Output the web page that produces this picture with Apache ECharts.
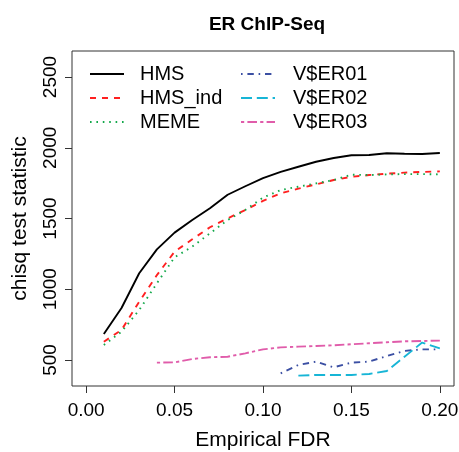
<!DOCTYPE html>
<html>
<head>
<meta charset="utf-8">
<script src="https://cdn.jsdelivr.net/npm/echarts@6/dist/echarts.min.js"></script>
<style>
  html, body { margin: 0; padding: 0; background: #fff; }
  #chart { width: 459px; height: 452px; }
</style>
</head>
<body>
<div id="chart"></div>
<script>
// Empirical FDR grid
var fdr = [0.01, 0.02, 0.03, 0.04, 0.05, 0.06, 0.07, 0.08, 0.09, 0.10,
           0.11, 0.12, 0.13, 0.14, 0.15, 0.16, 0.17, 0.18, 0.19, 0.20];

var hms    = [684, 867, 1113, 1282, 1400, 1489, 1572, 1668, 1728, 1786,
              1829, 1866, 1901, 1928, 1947, 1949, 1961, 1958, 1956, 1963];
var hmsInd = [629, 712, 912, 1100, 1265, 1353, 1438, 1501, 1560, 1625,
              1678, 1711, 1741, 1772, 1795, 1807, 1817, 1824, 1829, 1833];
var meme   = [606, 700, 853, 1042, 1226, 1301, 1395, 1489, 1560, 1648,
              1701, 1725, 1748, 1772, 1810, 1807, 1812, 1814, 1814, 1812];
// these start later on the fdr grid
var er01 = [406, 465, 488, 448, 481, 488, 528, 564, 575, 575];          // from 0.11
var er02 = [389, 394, 394, 394, 401, 422, 523, 623, 582];               // from 0.12
var er03 = [481, 483, 507, 519, 523, 547, 575, 589, 594, 599, 604,
            611, 618, 625, 632, 634, 637];                               // from 0.04

var xTicks = [0, 0.05, 0.10, 0.15, 0.20];
var yTicks = [500, 1000, 1500, 2000, 2500];

function pairs(vals, startX) {
  var i0 = fdr.indexOf(startX);
  return vals.map(function (v, i) { return [fdr[i0 + i], v]; });
}

var font = 'Liberation Sans, Arial, sans-serif';
var lw = 1.9;

function line(name, data, color, type) {
  return {
    name: name,
    type: 'line',
    data: data,
    symbol: 'none',
    showSymbol: false,
    animation: false,
    lineStyle: { color: color, width: lw, type: type },
    itemStyle: { color: color }
  };
}

var legendCommon = {
  orient: 'vertical', top: 64, padding: 0,
  itemWidth: 34, itemHeight: 14, itemGap: 4,
  itemStyle: { opacity: 0 }
};

var chart = echarts.init(document.getElementById('chart'));
chart.setOption({
  animation: false,
  title: {
    text: 'ER ChIP-Seq',
    left: 262,
    textAlign: 'center',
    top: 10,
    textStyle: { fontFamily: font, fontWeight: 'bold', fontSize: 19, color: '#000' }
  },
  grid: {
    left: 72, right: 5, top: 51, bottom: 66,
    outerBoundsMode: 'none',
    show: true, borderColor: '#333', borderWidth: 1, backgroundColor: 'transparent'
  },
  legend: [
    Object.assign({}, legendCommon, {
      data: ['HMS', 'HMS_ind', 'MEME'], left: 89,
      textStyle: { fontFamily: font, fontSize: 20, color: '#000', padding: [0, 0, 0, 11] }
    }),
    Object.assign({}, legendCommon, {
      data: ['V$ER01', 'V$ER02', 'V$ER03'], left: 240,
      textStyle: { fontFamily: font, fontSize: 20, color: '#000', padding: [0, 0, 0, 13] }
    })
  ],
  xAxis: {
    type: 'value',
    min: -0.008, max: 0.208,
    name: 'Empirical FDR',
    nameLocation: 'middle',
    nameGap: 44,
    nameTextStyle: { fontFamily: font, fontSize: 21, color: '#000' },
    axisLine: { show: false, onZero: false },
    splitLine: { show: false },
    axisTick: { show: true, customValues: xTicks, length: 7, lineStyle: { color: '#333' } },
    axisLabel: {
      customValues: xTicks, margin: 15,
      fontFamily: font, fontSize: 19, color: '#000',
      formatter: function (v) { return v.toFixed(2); }
    }
  },
  yAxis: {
    type: 'value',
    min: 316, max: 2684,
    name: 'chisq test statistic',
    nameLocation: 'middle',
    nameGap: 41,
    nameTextStyle: { fontFamily: font, fontSize: 21, color: '#000' },
    axisLine: { show: false, onZero: false },
    splitLine: { show: false },
    axisTick: { show: true, customValues: yTicks, length: 7, lineStyle: { color: '#333' } },
    axisLabel: {
      customValues: yTicks, margin: 12, rotate: 90,
      fontFamily: font, fontSize: 19, color: '#000',
      formatter: function (v) { return String(v); }
    }
  },
  series: [
    line('HMS', pairs(hms, 0.01), '#000000', 'solid'),
    line('HMS_ind', pairs(hmsInd, 0.01), '#FF2020', [6, 6]),
    line('MEME', pairs(meme, 0.01), '#13A84A', [1.6, 4.8]),
    line('V$ER01', pairs(er01, 0.11), '#3B4FA3', [1.6, 4.8, 6.4, 4.8]),
    line('V$ER02', pairs(er02, 0.12), '#17B5D6', [11, 4.8]),
    line('V$ER03', pairs(er03, 0.04), '#E05CAA', [3.2, 3.2, 9.6, 3.2])
  ]
});
</script>
</body>
</html>
